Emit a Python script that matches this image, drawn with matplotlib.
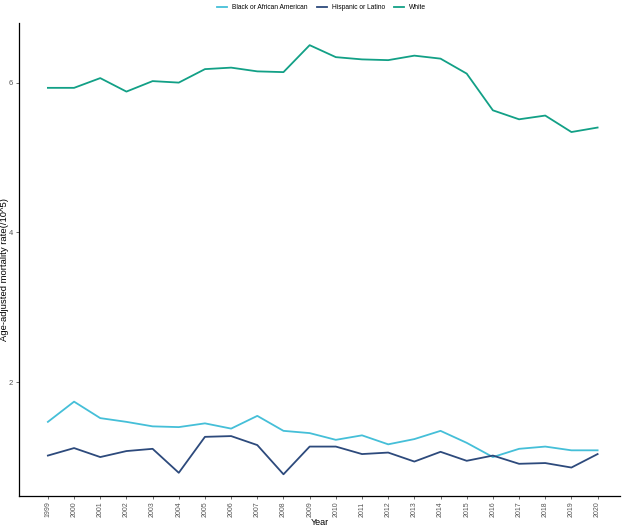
import matplotlib
matplotlib.use("Agg")
import matplotlib.pyplot as plt

plt.rcParams['font.family'] = ['Liberation Sans', 'DejaVu Sans']

years = list(range(1999, 2021))
black = [1.47, 1.74, 1.52, 1.47, 1.41, 1.40, 1.45, 1.38, 1.55, 1.35, 1.32,
         1.23, 1.29, 1.17, 1.24, 1.35, 1.19, 1.00, 1.11, 1.14, 1.09, 1.09]
hispanic = [1.02, 1.12, 1.00, 1.08, 1.11, 0.79, 1.27, 1.28, 1.16, 0.77, 1.14,
            1.14, 1.04, 1.06, 0.94, 1.07, 0.95, 1.02, 0.91, 0.92, 0.86, 1.04]
white = [5.93, 5.93, 6.06, 5.88, 6.02, 6.00, 6.18, 6.20, 6.15, 6.14, 6.50,
         6.34, 6.31, 6.30, 6.36, 6.32, 6.12, 5.63, 5.51, 5.56, 5.34, 5.40]

series = [
    ("Black or African American", black, "#45BFD8"),
    ("Hispanic or Latino", hispanic, "#2D4A7C"),
    ("White", white, "#12A086"),
]

fig = plt.figure(figsize=(6.28, 5.28), dpi=100)
ax = fig.add_axes([0.030, 0.0606, 0.957, 0.895])

for name, vals, col in series:
    ax.plot(years, vals, color=col, linewidth=1.3, label=name)

ax.set_xlim(1997.89, 2020.85)
ax.set_ylim(0.48, 6.79)
ax.set_xticks(years)
ax.set_xticklabels([str(y) for y in years], rotation=90, fontsize=5, color="#555555")
ax.set_yticks([2, 4, 6])
ax.set_yticklabels(["2", "4", "6"], fontsize=5.5, color="#555555")
ax.tick_params(axis='both', length=2.5, width=0.6, colors="#555555", pad=1.5)

for s in ["top", "right"]:
    ax.spines[s].set_visible(False)
for s in ["left", "bottom"]:
    ax.spines[s].set_linewidth(0.9)
    ax.spines[s].set_color("black")

ax.set_xlabel("Year", fontsize=6.5)
ax.xaxis.set_label_coords(0.5, -0.046)
ax.set_ylabel("Age-adjusted mortality rate(/10^5)", fontsize=6.8)
ax.yaxis.set_label_coords(-0.0165, 0.48)

fig.legend(loc="upper center", bbox_to_anchor=(0.512, 1.003), ncol=3, frameon=False,
           fontsize=4.8, handlelength=1.5, columnspacing=1.3, handletextpad=0.8)

fig.savefig("out.png", dpi=100)
